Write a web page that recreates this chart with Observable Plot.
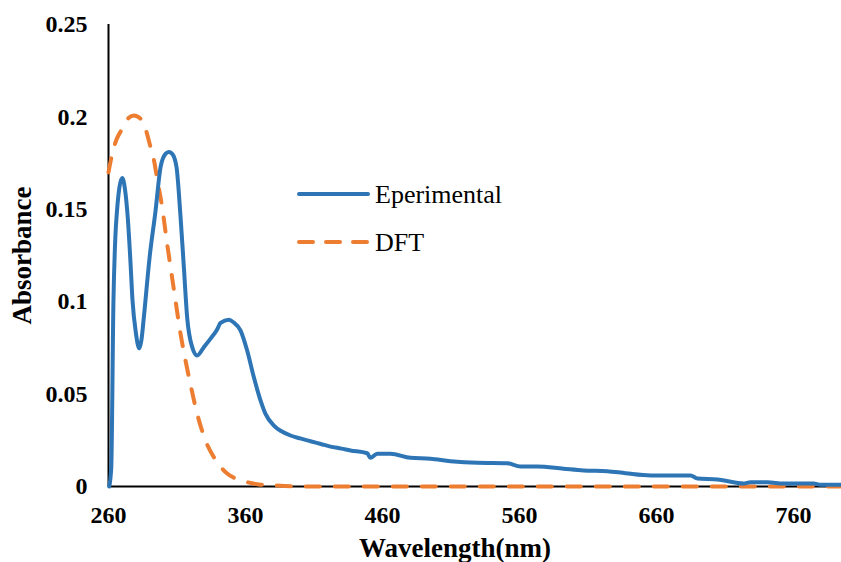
<!DOCTYPE html>
<html>
<head>
<meta charset="utf-8">
<script src="https://cdn.jsdelivr.net/npm/d3@7"></script>
<script src="https://cdn.jsdelivr.net/npm/@observablehq/plot@0.6"></script>
<style>
  html, body { margin: 0; padding: 0; background: #ffffff; }
  #wrap { position: relative; width: 841px; height: 562px; overflow: hidden; font-family: "Liberation Serif", "Times New Roman", serif; }
  #legend { position: absolute; left: 0; top: 0; }
</style>
</head>
<body>
<div id="wrap"></div>
<script>
// ---- data ----
const expWavelength = [260.5, 262, 263.6, 265, 266.3, 268, 270, 272, 274, 276, 277.5, 280, 282.5, 284, 285.8, 290, 294.3, 298, 301.6, 304, 306.5, 309.6, 312.6, 315, 317.4, 321.1, 324.7, 329.6, 334.5, 339.3, 341.8, 347.8, 351.2, 356.4, 361.2, 366.1, 371, 374.6, 380.7, 386, 392.8, 400, 407.4, 415, 422, 430, 436.6, 448.8, 451.2, 456.1, 465.8, 480.4, 495, 509.6, 529.1, 551, 560.7, 572.9, 592.1, 606.7, 624, 637.4, 655.6, 684.8, 689.9, 704.5, 716.2, 723.5, 728.6, 741, 752.7, 774.6, 779.7, 795];
const expAbsorbance = [0, 0.01, 0.1, 0.135, 0.150, 0.162, 0.167, 0.161, 0.146, 0.122, 0.101, 0.083, 0.0747, 0.079, 0.0916, 0.124, 0.149, 0.1728, 0.180, 0.181, 0.180, 0.173, 0.1457, 0.1187, 0.0916, 0.0754, 0.0709, 0.0754, 0.080, 0.0850, 0.0885, 0.0902, 0.0889, 0.0844, 0.0736, 0.0591, 0.0465, 0.0393, 0.033, 0.030, 0.0276, 0.026, 0.0245, 0.023, 0.0216, 0.0205, 0.0195, 0.018, 0.0155, 0.0177, 0.0177, 0.0155, 0.015, 0.0137, 0.0128, 0.0126, 0.0108, 0.0108, 0.0096, 0.0087, 0.0083, 0.0072, 0.006, 0.006, 0.0043, 0.0038, 0.0023, 0.0016, 0.0023, 0.0023, 0.0016, 0.0016, 0.001, 0.001];

const dftWavelength = [260, 262.7, 266, 270, 274.8, 278.5, 283.4, 287, 290.7, 293, 295.5, 299.2, 302.8, 305.3, 308.9, 312.6, 316.2, 319.9, 324.7, 330.8, 339.3, 346.6, 357.6, 371, 385.5, 400, 795];
const dftAbsorbance = [0.170, 0.180, 0.188, 0.1935, 0.1995, 0.2008, 0.199, 0.1935, 0.1836, 0.1773, 0.1665, 0.151, 0.1313, 0.1187, 0.1006, 0.0826, 0.0682, 0.055, 0.0394, 0.0249, 0.0132, 0.007, 0.0032, 0.001, 0.0004, 0, 0];

const xTicks = [260, 360, 460, 560, 660, 760];
const yTicks = [0, 0.05, 0.1, 0.15, 0.2, 0.25];
const yTickLabels = ["0", "0.05", "0.1", "0.15", "0.2", "0.25"];
const seriesNames = ["Eperimental", "DFT"];
const xTitle = "Wavelength(nm)";
const yTitle = "Absorbance";

const expData = expWavelength.map((w, i) => ({w, a: expAbsorbance[i]}));
const dftData = dftWavelength.map((w, i) => ({w, a: dftAbsorbance[i]}));

const blue = "#2E75B6";
const orange = "#ED7D31";
const serif = "Liberation Serif";

const chart = Plot.plot({
  width: 841,
  height: 562,
  marginLeft: 108,
  marginRight: 0,
  marginTop: 24,
  marginBottom: 76,
  style: {fontFamily: serif, fontSize: "24px", color: "#000", background: "#fff", overflow: "visible"},
  x: {domain: [260, 795]},
  y: {domain: [0, 0.25]},
  marks: [
    Plot.axisX({ticks: xTicks, tickSize: 0, tickPadding: 19, tickFormat: d => String(d), label: null, fontWeight: "bold", fontFamily: serif, fontSize: 24}),
    Plot.axisY({ticks: yTicks, tickSize: 0, tickPadding: 21, tickFormat: d => yTickLabels[yTicks.indexOf(d)], label: null, fontWeight: "bold", fontFamily: serif, fontSize: 24}),
    Plot.ruleY([0], {stroke: "#000", strokeWidth: 2}),
    Plot.ruleX([260], {y1: 0, y2: 0.25, stroke: "#000", strokeWidth: 2}),
    Plot.line(dftData, {x: "w", y: "a", stroke: orange, strokeWidth: 4, strokeDasharray: "14,15", curve: "monotone-x"}),
    Plot.line(expData, {x: "w", y: "a", stroke: blue, strokeWidth: 4, curve: "monotone-x"}),
    Plot.text([xTitle], {frameAnchor: "bottom", dx: -20, dy: 70, fontWeight: "bold", fontSize: 27, fontFamily: serif}),
    Plot.text([yTitle], {frameAnchor: "left", textAnchor: "middle", dx: -86, rotate: -90, fontWeight: "bold", fontSize: 27, fontFamily: serif})
  ]
});

const wrap = document.getElementById("wrap");
wrap.appendChild(chart);

// legend overlay
const ns = "http://www.w3.org/2000/svg";
const leg = document.createElementNS(ns, "svg");
leg.setAttribute("id", "legend");
leg.setAttribute("width", 841);
leg.setAttribute("height", 562);
const items = [
  {name: seriesNames[0], color: blue, dash: null, y: 194},
  {name: seriesNames[1], color: orange, dash: "14,13", y: 242}
];
for (const it of items) {
  const ln = document.createElementNS(ns, "line");
  ln.setAttribute("x1", 299); ln.setAttribute("x2", 368);
  ln.setAttribute("y1", it.y); ln.setAttribute("y2", it.y);
  ln.setAttribute("stroke", it.color);
  ln.setAttribute("stroke-width", 4);
  ln.setAttribute("stroke-linecap", "round");
  if (it.dash) ln.setAttribute("stroke-dasharray", it.dash);
  leg.appendChild(ln);
  const tx = document.createElementNS(ns, "text");
  tx.setAttribute("x", 375);
  tx.setAttribute("y", it.y + 9);
  tx.setAttribute("font-family", serif);
  tx.setAttribute("font-size", 26);
  tx.setAttribute("fill", "#000");
  tx.textContent = it.name;
  leg.appendChild(tx);
}
wrap.appendChild(leg);
</script>
</body>
</html>
